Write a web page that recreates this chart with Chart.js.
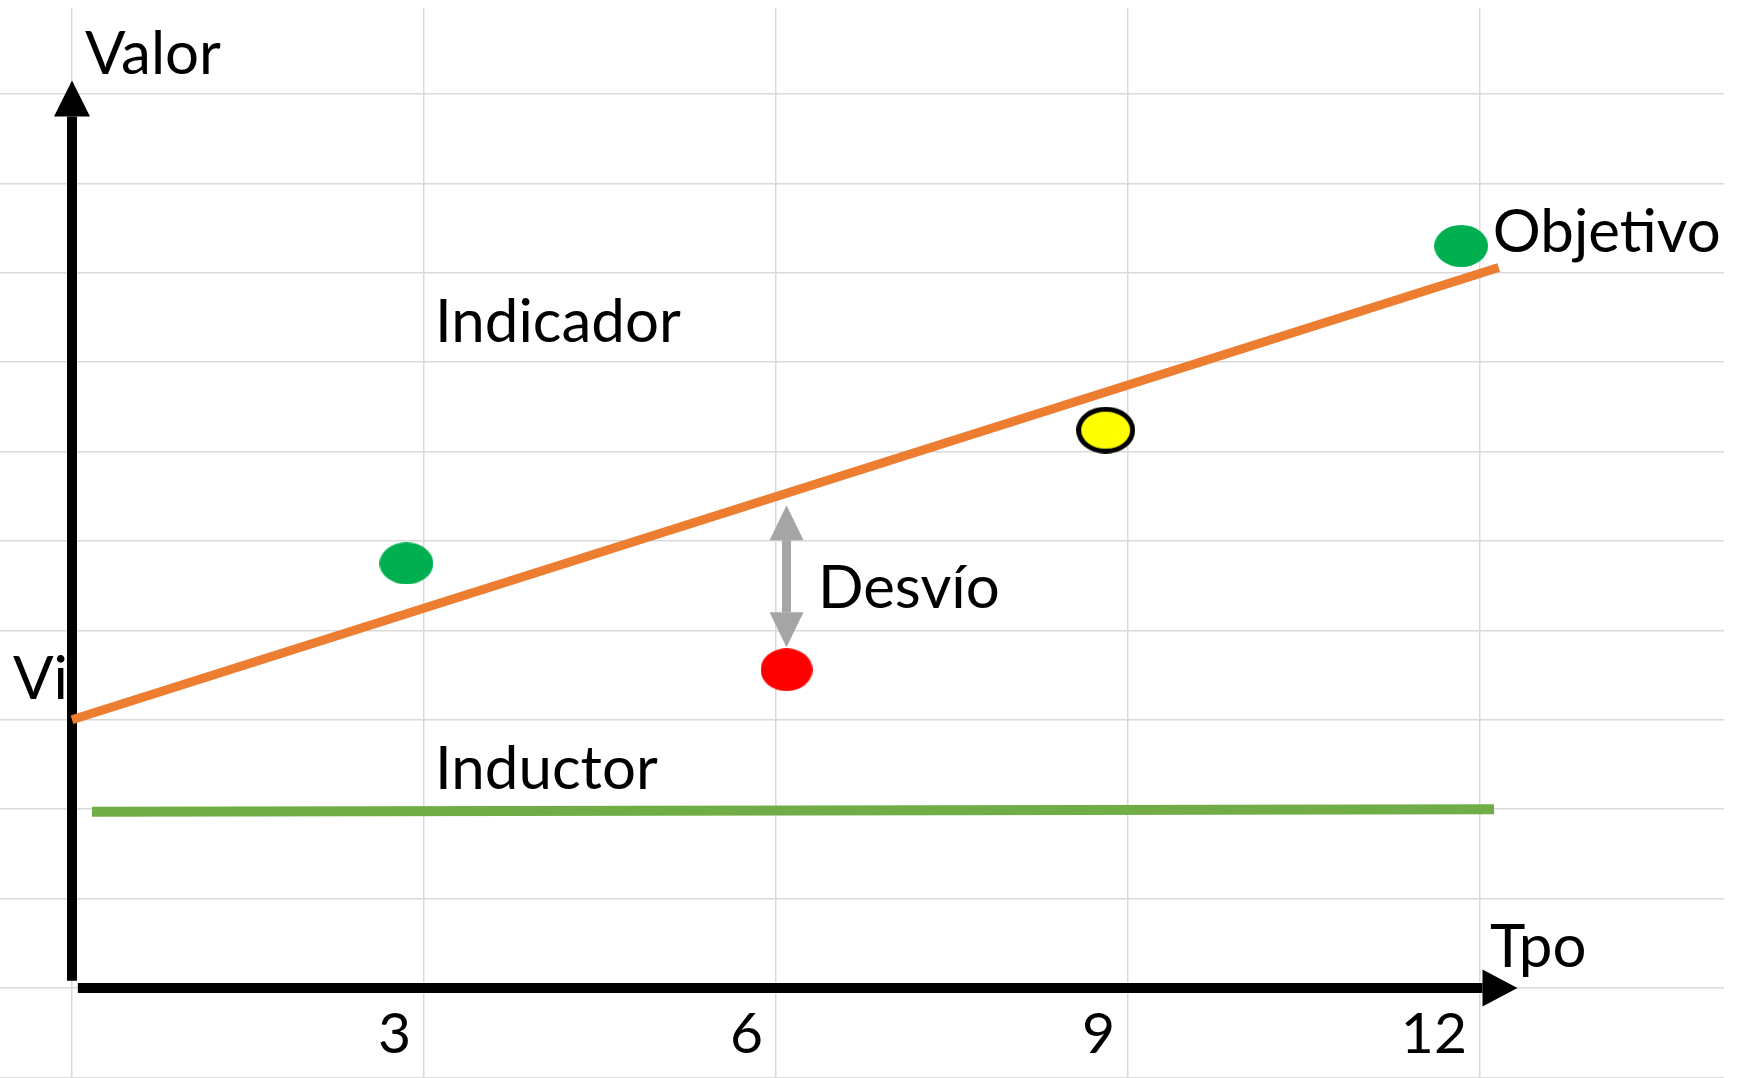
<!DOCTYPE html>
<html>
<head>
<meta charset="utf-8">
<script src="https://cdn.jsdelivr.net/npm/chart.js@4.4.1/dist/chart.umd.min.js"></script>
<style>
  body { margin: 0; background: #fff; }
  #chart { display: block; }
</style>
</head>
<body>
<canvas id="chart" width="1740" height="1078"></canvas>
<script>
// data (x = tiempo, y = valor)
var indicadorX = [0, 12.16];
var indicadorY = [3.0, 8.06];
var inductorX = [0.17, 12.12];
var inductorY = [1.97, 2.0];
var medicionX = [2.85, 6.09, 8.81, 11.84];
var medicionY = [4.75, 3.56, 6.24, 8.30];
var xTicks = [3, 6, 9, 12];

// axis arrows + desvio arrow (data units)
var ejeY = [0.08, 10.15];
var ejeX = [0.05, 12.32];
var desvioX = 6.09;
var desvioY = [3.81, 5.40];

// texts
var textos = ["Valor", "Indicador", "Objetivo", "Desvío", "Vi", "Inductor", "Tpo"];
var textosX = [0.11, 3.094, 12.11, 6.358, -0.503, 3.094, 12.086];
var textosY = [10.224, 7.226, 8.233, 4.251, 3.233, 2.226, 0.235];

function toPts(xs, ys) {
  return xs.map(function(x, i){ return {x: x, y: ys[i]}; });
}

// elliptic markers like the drawing
function ellipse(w, h, fill, border) {
  var c = document.createElement('canvas');
  c.width = w; c.height = h;
  var g = c.getContext('2d');
  g.beginPath();
  g.ellipse(w / 2, h / 2, w / 2 - (border ? border / 2 : 0), h / 2 - (border ? border / 2 : 0), 0, 0, Math.PI * 2);
  g.fillStyle = fill;
  g.fill();
  if (border) {
    g.lineWidth = border;
    g.strokeStyle = '#000';
    g.stroke();
  }
  return c;
}
var verde = ellipse(54, 42, '#00B050');
var rojo = ellipse(52, 43, '#FF0000');
var amarillo = ellipse(59, 47, '#FFFF00', 5);

function arrow(ctx, x1, y1, x2, y2, lw, hl, hw, color, both) {
  var a = Math.atan2(y2 - y1, x2 - x1);
  var cos = Math.cos(a), sin = Math.sin(a);
  var sx = both ? x1 + cos * hl : x1, sy = both ? y1 + sin * hl : y1;
  ctx.save();
  ctx.strokeStyle = color;
  ctx.fillStyle = color;
  ctx.lineWidth = lw;
  ctx.beginPath();
  ctx.moveTo(sx, sy);
  ctx.lineTo(x2 - cos * hl, y2 - sin * hl);
  ctx.stroke();
  function head(tx, ty, dx, dy) {
    var bx = tx - dx * hl, by = ty - dy * hl;
    ctx.beginPath();
    ctx.moveTo(tx, ty);
    ctx.lineTo(bx - dy * hw / 2, by + dx * hw / 2);
    ctx.lineTo(bx + dy * hw / 2, by - dx * hw / 2);
    ctx.closePath();
    ctx.fill();
  }
  head(x2, y2, cos, sin);
  if (both) head(x1, y1, -cos, -sin);
  ctx.restore();
}

var dibujo = {
  id: 'dibujo',
  beforeDatasetsDraw: function(chart) {
    var ctx = chart.ctx, xs = chart.scales.x, ys = chart.scales.y;
    arrow(ctx, xs.getPixelForValue(0), ys.getPixelForValue(ejeY[0]), xs.getPixelForValue(0), ys.getPixelForValue(ejeY[1]), 10, 36, 36, '#000');
    arrow(ctx, xs.getPixelForValue(ejeX[0]), ys.getPixelForValue(0), xs.getPixelForValue(ejeX[1]), ys.getPixelForValue(0), 10, 35, 37, '#000');
    arrow(ctx, xs.getPixelForValue(desvioX), ys.getPixelForValue(desvioY[0]), xs.getPixelForValue(desvioX), ys.getPixelForValue(desvioY[1]), 9, 35, 34, '#A5A5A5', true);
  },
  afterDatasetsDraw: function(chart) {
    var ctx = chart.ctx, xs = chart.scales.x, ys = chart.scales.y;
    ctx.save();
    ctx.font = '60px Lato';
    ctx.fillStyle = '#000';
    ctx.textAlign = 'left';
    ctx.textBaseline = 'alphabetic';
    textos.forEach(function(t, i){
      ctx.fillText(t, xs.getPixelForValue(textosX[i]), ys.getPixelForValue(textosY[i]));
    });
    ctx.restore();
  }
};

// no extra room around the grid
function sinPadding(scale) {
  scale.paddingLeft = 0;
  scale.paddingRight = 0;
  scale.paddingTop = 0;
  scale.paddingBottom = 0;
}

new Chart("chart", {
  type: "scatter",
  data: {
    datasets: [{
      label: "Indicador",
      data: toPts(indicadorX, indicadorY),
      showLine: true,
      borderColor: "#ED7D31",
      borderWidth: 9,
      borderCapStyle: "butt",
      pointRadius: 0
    }, {
      label: "Inductor",
      data: toPts(inductorX, inductorY),
      showLine: true,
      borderColor: "#70AD47",
      borderWidth: 10,
      borderCapStyle: "butt",
      pointRadius: 0
    }, {
      label: "Medición",
      data: toPts(medicionX, medicionY),
      showLine: false,
      pointStyle: [verde, rojo, amarillo, verde],
      pointRadius: 27
    }]
  },
  options: {
    responsive: false,
    animation: false,
    devicePixelRatio: 1,
    layout: { autoPadding: false, padding: { left: 0, top: 8, right: 16, bottom: 0 } },
    plugins: {
      legend: { display: false },
      tooltip: { enabled: false }
    },
    scales: {
      x: {
        type: "linear",
        position: { y: 0 },
        min: -0.6136,
        max: 14.08,
        afterFit: sinPadding,
        border: { display: false },
        grid: { color: "#d9d9d9", lineWidth: 1.5, drawTicks: false },
        ticks: {
          stepSize: 3,
          includeBounds: false,
          autoSkip: false,
          maxRotation: 0,
          align: "end",
          labelOffset: -13,
          padding: 12,
          color: "#000",
          font: { family: "Lato", size: 57 },
          callback: function(v){ return xTicks.indexOf(v) >= 0 ? String(v) : ""; }
        }
      },
      y: {
        type: "linear",
        min: -1.007,
        max: 10.962,
        afterFit: sinPadding,
        border: { display: false },
        grid: { color: "#d9d9d9", lineWidth: 1.5, drawTicks: false },
        ticks: { display: false, stepSize: 1, includeBounds: false }
      }
    }
  },
  plugins: [dibujo]
});
</script>
</body>
</html>
